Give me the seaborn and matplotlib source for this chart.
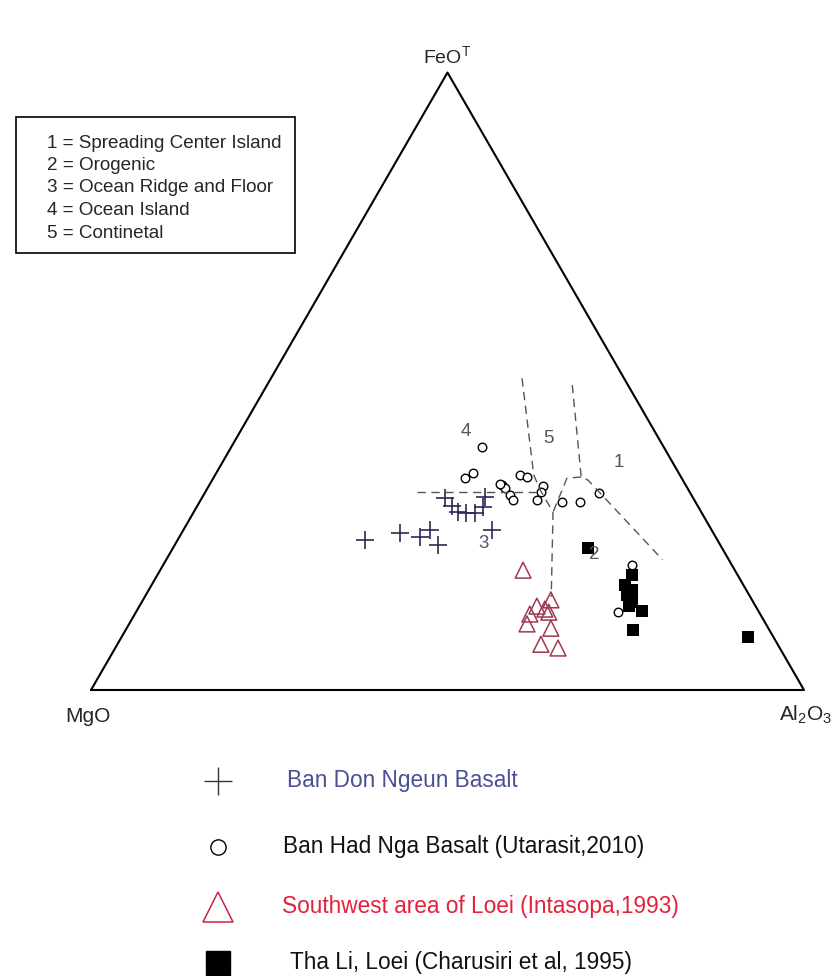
"""
MgO - FeOT - Al2O3 tectonic discrimination diagram (Pearce et al. style).
"""

import numpy as np
import pandas as pd
import matplotlib.pyplot as plt
import seaborn as sns

from matplotlib.lines import Line2D
from matplotlib.patches import Rectangle


# ---- sample data (wt%, FeOT / MgO / Al2O3) ----
don_ngeun_feo = [24.3, 25.4, 24.8, 25.9, 23.5, 31.1, 29.8, 28.8, 28.7, 28.7, 29.6, 31.3, 25.9]
don_ngeun_mgo = [49.4, 44.0, 41.5, 39.5, 39.6, 34.8, 34.5, 34.1, 33.0, 31.8, 30.2, 29.1, 30.8]
don_ngeun_al = [26.3, 30.6, 33.8, 34.6, 36.9, 34.1, 35.7, 37.1, 38.3, 39.5, 40.2, 39.6, 43.3]

had_nga_feo = [39.4, 34.3, 35.1, 33.2, 32.7, 31.6, 30.8, 34.8, 34.5, 33.0, 32.1, 30.8, 30.4, 30.4, 31.9, 20.2, 33.4, 12.6]
had_nga_mgo = [25.5, 30.4, 28.9, 25.8, 25.6, 25.4, 25.4, 22.4, 21.6, 20.1, 20.8, 22.0, 18.7, 16.2, 12.8, 14.0, 26.0, 19.8]
had_nga_al = [35.2, 35.3, 36.0, 41.0, 41.7, 43.0, 43.8, 42.8, 43.9, 46.9, 47.1, 47.2, 50.8, 53.4, 55.3, 65.8, 40.7, 67.6]

loei_sw_feo = [19.4, 14.6, 13.6, 13.1, 12.6, 12.3, 10.7, 10.0, 7.4, 6.8]
loei_sw_mgo = [29.7, 28.2, 30.7, 29.8, 29.5, 32.3, 33.5, 30.5, 33.2, 31.1]
loei_sw_al = [50.9, 57.2, 55.8, 57.1, 57.9, 55.4, 55.8, 59.5, 59.4, 62.1]

tha_li_feo = [23.0, 18.6, 17.0, 16.2, 15.4, 14.3, 13.6, 12.8, 9.7, 8.6]
tha_li_mgo = [18.8, 14.8, 16.6, 16.0, 17.1, 17.0, 17.7, 16.3, 19.1, 3.6]
tha_li_al = [58.2, 66.6, 66.4, 67.8, 67.5, 68.8, 68.7, 70.9, 71.2, 87.9]

# ---- field boundaries (FeOT, Al2O3; MgO = rest) ----
boundaries = [
    [(32.1, 29.7), (32.1, 46.9)],
    [(50.5, 35.2), (34.8, 44.7), (32.4, 46.8), (28.8, 50.4), (15.1, 57.0)],
    [(49.4, 42.8), (34.5, 51.5), (34.0, 52.7), (21.1, 69.6)],
    [(34.5, 51.5), (34.3, 49.6), (28.8, 50.4)],
]

field_ids = ["1", "2", "3", "4", "5"]
field_pos = [(36.9, 55.6), (21.9, 59.6), (23.8, 43.2), (41.8, 31.7), (40.8, 43.7)]
field_names = [
    "1 = Spreading Center Island",
    "2 = Orogenic",
    "3 = Ocean Ridge and Floor",
    "4 = Ocean Island",
    "5 = Continetal",
]

series_names = [
    "Ban Don Ngeun Basalt",
    "Ban Had Nga Basalt (Utarasit,2010)",
    "Southwest area of Loei (Intasopa,1993)",
    "Tha Li, Loei (Charusiri et al, 1995)",
]
series_text_colors = ["#4a4f98", "#111111", "#e3213b", "#111111"]

H = np.sqrt(3) / 2


def tern(feo, al, mgo=None):
    """
    Convert ternary composition to cartesian (MgO left, Al2O3 right, FeO top).
    """
    feo = np.asarray(feo, dtype=float)
    al = np.asarray(al, dtype=float)
    if mgo is None:
        mgo = 100 - feo - al
    tot = feo + al + np.asarray(mgo, dtype=float)
    return (al + feo / 2) / tot, feo / tot * H


sns.set_style("white")
plt.rcParams["font.family"] = ["Liberation Sans", "DejaVu Sans"]
plt.rcParams["mathtext.default"] = "regular"

fig = plt.figure(figsize=(8.34, 9.76), dpi=100)
ax = fig.add_axes([0, 0, 1, 1])
ax.set_xlim(-91 / 713, 743 / 713)
ax.set_ylim(-286 / 713, 690 / 713)
ax.axis("off")

# outer triangle
ax.plot([0, 1, 0.5, 0], [0, 0, H, 0], color="black", lw=1.5)

for line in boundaries:
    f, a = zip(*line)
    bx, by = tern(f, a)
    ax.plot(bx, by, color="#555555", lw=1.0, ls=(0, (6, 4)))

for fid, (f, a) in zip(field_ids, field_pos):
    tx, ty = tern(f, a)
    ax.text(tx, ty, fid, fontsize=13.5, ha="center", va="center",
            color="#55557a" if fid == "3" else "#555555")

# samples
x, y = tern(don_ngeun_feo, don_ngeun_al, don_ngeun_mgo)
sns.scatterplot(x=x, y=y, marker="+", s=170, color="#2a2a55",
                linewidth=1.2, ax=ax, legend=False)

x, y = tern(had_nga_feo, had_nga_al, had_nga_mgo)
sns.scatterplot(x=x, y=y, marker="o", s=38, facecolor="white",
                edgecolor="black", linewidth=1.0, ax=ax, legend=False)

x, y = tern(loei_sw_feo, loei_sw_al, loei_sw_mgo)
sns.scatterplot(x=x, y=y, marker="^", s=130, facecolor="none",
                edgecolor="#9e3a4e", linewidth=1.1, ax=ax, legend=False)

x, y = tern(tha_li_feo, tha_li_al, tha_li_mgo)
sns.scatterplot(x=x, y=y, marker="s", s=64, color="black",
                linewidth=0, ax=ax, legend=False)

# vertex labels
ax.annotate("FeO$^{T}$", xy=(0.5, H), xytext=(0, 12), textcoords="offset points",
            ha="center", va="center", fontsize=14)
ax.annotate("MgO", xy=(0, 0), xytext=(-2, -19), textcoords="offset points",
            ha="center", va="center", fontsize=15)
ax.annotate("Al$_2$O$_3$", xy=(1, 0), xytext=(1, -18), textcoords="offset points",
            ha="center", va="center", fontsize=15)

# field key box
fig.add_artist(Rectangle((16 / 834, 1 - 253 / 976), 279 / 834, 136 / 976,
                         transform=fig.transFigure, fill=False,
                         edgecolor="black", lw=1.2))
for i, name in enumerate(field_names):
    fig.text(47 / 834, 1 - (143 + 22.5 * i) / 976, name,
             fontsize=13.6, va="center", ha="left")

# sample legend
legend_rows = [781, 847, 907, 963]
legend_text_x = [287, 283, 282, 290]
legend_markers = [
    dict(marker="+", markersize=20, color="#333333", markeredgewidth=1.0),
    dict(marker="o", markersize=11, markerfacecolor="none",
         markeredgecolor="black", markeredgewidth=1.0),
    dict(marker="^", markersize=21, markerfacecolor="none",
         markeredgecolor="#cc2244", markeredgewidth=1.1),
    dict(marker="s", markersize=17, color="black"),
]
for row, tx, name, col, mk in zip(legend_rows, legend_text_x, series_names,
                                  series_text_colors, legend_markers):
    yf = 1 - row / 976
    fig.add_artist(Line2D([218 / 834], [yf], transform=fig.transFigure,
                          linestyle="none", **mk))
    fig.text(tx / 834, yf, name, fontsize=16.3, color=col,
             va="center", ha="left")

plt.savefig("out.png", dpi=100)
plt.close()
